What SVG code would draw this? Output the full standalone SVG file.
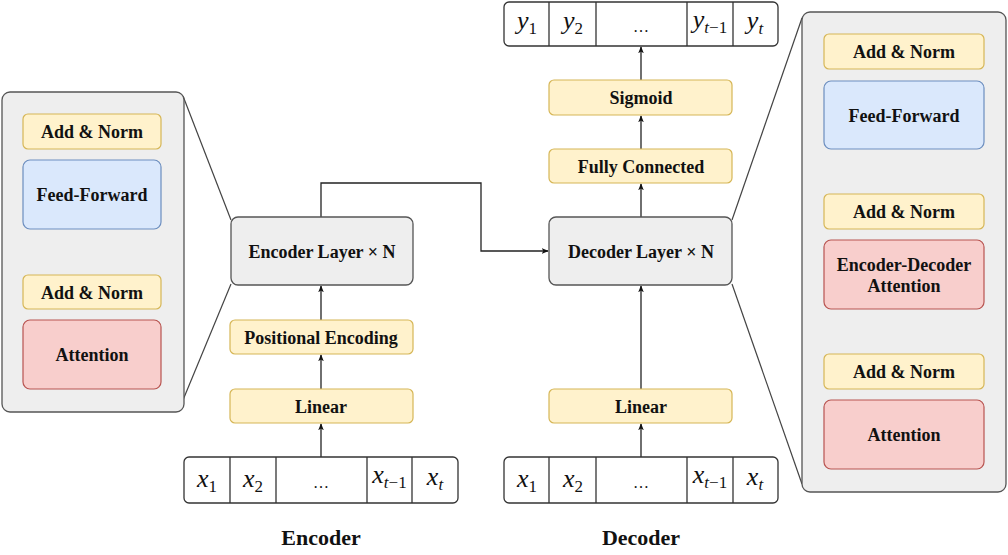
<svg xmlns="http://www.w3.org/2000/svg" width="1008" height="555" viewBox="0 0 1008 555">
<defs>
<marker id="ah" viewBox="0 0 10 10" refX="9" refY="5" markerWidth="7" markerHeight="7" markerUnits="userSpaceOnUse" orient="auto">
<path d="M0,1 L10,5 L0,9 L2.5,5 Z" fill="#111"/>
</marker>
<style>
.panel{fill:#eeeeee;stroke:#555;stroke-width:1.3}
.layer{fill:#eeeeee;stroke:#555;stroke-width:1.3}
.y{fill:#fff2cc;stroke:#d6b656;stroke-width:1.2}
.b{fill:#dae8fc;stroke:#6c8ebf;stroke-width:1.2}
.r{fill:#f8cecc;stroke:#b85450;stroke-width:1.2}
.seq{fill:#ffffff;stroke:#333;stroke-width:1.3}
.lbl{font-family:"Liberation Serif","Times New Roman",serif;font-weight:bold;font-size:18px;fill:#111;text-anchor:middle}
.big{font-family:"Liberation Serif","Times New Roman",serif;font-weight:bold;font-size:22px;fill:#111;text-anchor:middle}
.m{font-family:"Liberation Serif","Times New Roman",serif;font-style:italic;font-size:26px;fill:#111;text-anchor:middle}
.sub{font-size:17px}
.up{font-style:normal}
.dots{font-family:"Liberation Serif",serif;font-size:16px;fill:#111;text-anchor:middle}
.c{fill:none;stroke:#222;stroke-width:1.3}
.z{fill:none;stroke:#444;stroke-width:1.2}
</style>
</defs>

<g id="connectors">
<line class="c" x1="321" y1="457" x2="321" y2="424" marker-end="url(#ah)"/>
<line class="c" x1="321" y1="389" x2="321" y2="355" marker-end="url(#ah)"/>
<line class="c" x1="321" y1="320" x2="321" y2="286" marker-end="url(#ah)"/>
<path class="c" d="M321,217 V183 H481 V251 H548" marker-end="url(#ah)"/>
<line class="c" x1="641" y1="457" x2="641" y2="424" marker-end="url(#ah)"/>
<line class="c" x1="641" y1="389" x2="641" y2="286" marker-end="url(#ah)"/>
<line class="c" x1="641" y1="217" x2="641" y2="184" marker-end="url(#ah)"/>
<line class="c" x1="641" y1="149" x2="641" y2="116" marker-end="url(#ah)"/>
<line class="c" x1="641" y1="80" x2="641" y2="47" marker-end="url(#ah)"/>
<line class="c" x1="92" y1="275" x2="92" y2="230" marker-end="url(#ah)"/>
<line class="c" x1="904" y1="194" x2="904" y2="150" marker-end="url(#ah)"/>
<line class="c" x1="904" y1="354" x2="904" y2="310" marker-end="url(#ah)"/>
<line class="z" x1="183" y1="96" x2="231" y2="220"/>
<line class="z" x1="183" y1="400" x2="231" y2="284"/>
<line class="z" x1="732" y1="220" x2="802" y2="18"/>
<line class="z" x1="732" y1="284" x2="802" y2="484"/>
</g>

<g id="encoder-panel">
<rect class="panel" x="2" y="92" width="182" height="320" rx="8"/>
<g id="enc-addnorm2"><rect class="y" x="23" y="114" width="138" height="35" rx="5"/><text class="lbl" x="92" y="138">Add &amp; Norm</text></g>
<g id="enc-ff"><rect class="b" x="23" y="160" width="138" height="69" rx="7"/><text class="lbl" x="92" y="201">Feed-Forward</text></g>
<g id="enc-addnorm1"><rect class="y" x="23" y="275" width="138" height="34" rx="5"/><text class="lbl" x="92" y="298.5">Add &amp; Norm</text></g>
<g id="enc-attn"><rect class="r" x="23" y="320" width="138" height="69" rx="7"/><text class="lbl" x="92" y="361">Attention</text></g>
</g>

<g id="encoder-layer"><rect class="layer" x="231" y="217" width="182" height="68" rx="7"/><text class="lbl" x="322" y="257.5">Encoder Layer × N</text></g>
<g id="pos-enc"><rect class="y" x="230" y="320" width="183" height="34" rx="5"/><text class="lbl" x="321" y="343.5">Positional Encoding</text></g>
<g id="enc-linear"><rect class="y" x="230" y="389" width="183" height="34" rx="5"/><text class="lbl" x="321" y="412.5">Linear</text></g>

<g id="enc-input">
<rect class="seq" x="184" y="457" width="274" height="46" rx="5"/>
<line class="seq" x1="230" y1="457" x2="230" y2="503"/>
<line class="seq" x1="276" y1="457" x2="276" y2="503"/>
<line class="seq" x1="367" y1="457" x2="367" y2="503"/>
<line class="seq" x1="412" y1="457" x2="412" y2="503"/>
<text class="m" x="207" y="487">x<tspan class="sub up" dy="5">1</tspan></text>
<text class="m" x="253" y="487">x<tspan class="sub up" dy="5">2</tspan></text>
<text class="dots" x="321" y="488">…</text>
<text class="m" x="389.5" y="483">x<tspan class="sub" dy="5">t</tspan><tspan class="sub up">−1</tspan></text>
<text class="m" x="435" y="485">x<tspan class="sub" dy="5">t</tspan></text>
</g>

<g id="decoder-layer"><rect class="layer" x="549" y="217" width="183" height="68" rx="7"/><text class="lbl" x="641" y="257.5">Decoder Layer × N</text></g>
<g id="dec-linear"><rect class="y" x="549" y="389" width="183" height="34" rx="5"/><text class="lbl" x="641" y="412.5">Linear</text></g>
<g id="fully-connected"><rect class="y" x="549" y="149" width="183" height="34" rx="5"/><text class="lbl" x="641" y="172.5">Fully Connected</text></g>
<g id="sigmoid"><rect class="y" x="549" y="80" width="183" height="35" rx="5"/><text class="lbl" x="641" y="104">Sigmoid</text></g>

<g id="dec-input">
<rect class="seq" x="504" y="457" width="274" height="46" rx="5"/>
<line class="seq" x1="549" y1="457" x2="549" y2="503"/>
<line class="seq" x1="596" y1="457" x2="596" y2="503"/>
<line class="seq" x1="687" y1="457" x2="687" y2="503"/>
<line class="seq" x1="733" y1="457" x2="733" y2="503"/>
<text class="m" x="527" y="487">x<tspan class="sub up" dy="5">1</tspan></text>
<text class="m" x="573" y="487">x<tspan class="sub up" dy="5">2</tspan></text>
<text class="dots" x="641" y="488">…</text>
<text class="m" x="710" y="483">x<tspan class="sub" dy="5">t</tspan><tspan class="sub up">−1</tspan></text>
<text class="m" x="755" y="485">x<tspan class="sub" dy="5">t</tspan></text>
</g>

<g id="dec-output">
<rect class="seq" x="504" y="2" width="274" height="44" rx="5"/>
<line class="seq" x1="549" y1="2" x2="549" y2="46"/>
<line class="seq" x1="596" y1="2" x2="596" y2="46"/>
<line class="seq" x1="687" y1="2" x2="687" y2="46"/>
<line class="seq" x1="733" y1="2" x2="733" y2="46"/>
<text class="m" x="527" y="29">y<tspan class="sub up" dy="5">1</tspan></text>
<text class="m" x="573" y="29">y<tspan class="sub up" dy="5">2</tspan></text>
<text class="dots" x="641" y="32">…</text>
<text class="m" x="710" y="28">y<tspan class="sub" dy="5">t</tspan><tspan class="sub up">−1</tspan></text>
<text class="m" x="755" y="29">y<tspan class="sub" dy="5">t</tspan></text>
</g>

<g id="decoder-panel">
<rect class="panel" x="802" y="12" width="204" height="480" rx="8"/>
<g id="dec-addnorm3"><rect class="y" x="824" y="34" width="160" height="35" rx="5"/><text class="lbl" x="904" y="58">Add &amp; Norm</text></g>
<g id="dec-ff"><rect class="b" x="824" y="81" width="160" height="68" rx="7"/><text class="lbl" x="904" y="121.5">Feed-Forward</text></g>
<g id="dec-addnorm2"><rect class="y" x="824" y="194" width="160" height="35" rx="5"/><text class="lbl" x="904" y="218">Add &amp; Norm</text></g>
<g id="dec-encdec-attn"><rect class="r" x="824" y="240" width="160" height="69" rx="7"/><text class="lbl" x="904" y="270.5">Encoder-Decoder</text><text class="lbl" x="904" y="291.5">Attention</text></g>
<g id="dec-addnorm1"><rect class="y" x="824" y="354" width="160" height="35" rx="5"/><text class="lbl" x="904" y="378">Add &amp; Norm</text></g>
<g id="dec-attn"><rect class="r" x="824" y="400" width="160" height="69" rx="7"/><text class="lbl" x="904" y="441">Attention</text></g>
</g>

<g id="titles">
<text class="big" x="321" y="545">Encoder</text>
<text class="big" x="641" y="545">Decoder</text>
</g>
</svg>
